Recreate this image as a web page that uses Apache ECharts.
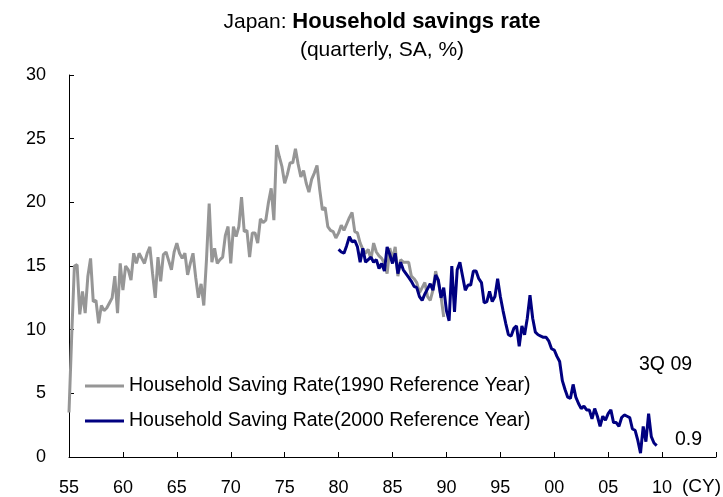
<!DOCTYPE html>
<html>
<head>
<meta charset="utf-8">
<script src="https://cdn.jsdelivr.net/npm/echarts@6/dist/echarts.min.js"></script>
<style>
  html, body { margin: 0; padding: 0; background: #fff; }
  #chart { width: 723px; height: 497px; }
</style>
</head>
<body>
<div id="chart"></div>
<script>
// quarterly values, 1955Q1 - 1989Q4 (1990 reference year)
const gray1990 = [
  3.5, 9.5, 15.0, 15.1, 11.2, 13.0, 11.3, 14.2, 15.6, 12.2, 12.3, 10.5,
  11.9, 11.5, 11.7, 12.1, 12.5, 14.2, 11.3, 15.2, 13.1, 15.0, 14.7, 13.9,
  16.0, 15.2, 16.0, 15.6, 15.2, 16.0, 16.5, 14.4, 12.5, 15.7, 13.8, 15.9,
  16.1, 15.4, 14.7, 16.1, 16.8, 16.0, 15.6, 16.0, 14.3, 15.2, 16.0, 14.1,
  12.5, 13.6, 11.9, 15.5, 19.9, 15.3, 16.4, 15.2, 15.5, 15.7, 17.4, 18.1,
  15.2, 18.1, 17.3, 18.1, 20.4, 17.7, 17.8, 15.7, 17.6, 17.6, 16.8, 18.7,
  18.4, 18.6, 20.0, 21.1, 18.6, 24.5, 23.6, 22.8, 21.5, 22.2, 23.1, 23.1,
  24.2, 23.0, 22.0, 22.5, 21.5, 20.8, 21.8, 22.3, 22.9, 21.0, 19.4, 19.6,
  18.1, 17.8, 17.7, 17.2, 17.6, 18.2, 17.8, 18.3, 18.8, 19.2, 17.7, 17.6,
  16.8, 16.3, 16.0, 16.3, 15.5, 16.8, 16.1, 15.8, 15.6, 15.2, 14.4, 16.4,
  15.5, 16.5, 14.2, 15.5, 15.3, 15.3, 15.3, 14.2, 14.0, 13.7, 12.9, 13.3,
  13.7, 12.6, 12.3, 13.1, 14.6, 13.7, 12.6, 11.0
]
const grayStart = 1955
// quarterly values, 1980Q1 - 2009Q3 (2000 reference year)
const blue2000 = [
  16.3, 16.1, 16.0, 16.6, 17.3, 16.9, 17.0, 16.5, 15.3, 16.4, 15.3, 15.5,
  15.7, 15.3, 15.5, 14.8, 15.2, 14.6, 16.5, 15.9, 15.2, 16.0, 14.4, 15.3,
  14.7, 14.4, 14.1, 13.8, 13.4, 13.3, 12.6, 12.3, 12.8, 13.2, 13.6, 13.1,
  14.3, 13.9, 12.5, 13.3, 11.5, 10.7, 15.0, 11.4, 14.7, 15.3, 14.2, 13.1,
  13.5, 13.5, 14.6, 14.6, 14.0, 13.7, 12.1, 12.2, 13.0, 12.2, 12.6, 14.0,
  12.6, 11.5, 10.5, 9.6, 9.5, 10.1, 10.3, 8.7, 10.3, 9.6, 10.9, 12.7,
  10.9, 9.8, 9.6, 9.5, 9.4, 9.4, 9.1, 8.5, 8.4, 7.9, 7.5, 6.0,
  5.3, 4.7, 4.6, 5.7, 4.7, 4.2, 3.8, 4.0, 3.7, 3.7, 3.0, 3.8,
  3.2, 2.4, 3.2, 2.9, 3.4, 3.7, 2.7, 2.7, 2.4, 3.1, 3.3, 3.2,
  3.1, 2.2, 2.1, 1.3, 0.3, 2.4, 1.2, 3.4, 1.6, 1.1, 0.9
]
const blueStart = 1980
const seriesNames = ['Household Saving Rate(1990 Reference Year)', 'Household Saving Rate(2000 Reference Year)']

const font = '"Liberation Sans", Arial, sans-serif'
const toPoints = (arr, start) => arr.map((v, i) => [start + i / 4, v])

const myChart = echarts.init(document.getElementById('chart'), null, { renderer: 'canvas' })
const option = {
  animation: false,
  backgroundColor: '#fff',
  color: ['#969696', '#000080'],
  title: {
    text: '{n|Japan: }{b|Household savings rate}',
    subtext: '(quarterly, SA, %)',
    left: 377,
    textAlign: 'center',
    top: 6,
    itemGap: 7,
    textStyle: {
      rich: {
        n: { fontFamily: font, fontSize: 21, fontWeight: 'normal', color: '#000' },
        b: { fontFamily: font, fontSize: 22, fontWeight: 'bold', color: '#000' }
      }
    },
    subtextStyle: { fontFamily: font, fontSize: 21, color: '#000', align: 'center' }
  },
  legend: {
    orient: 'vertical',
    left: 80,
    top: 371,
    itemWidth: 39,
    itemHeight: 3,
    itemGap: 15,
    icon: 'rect',
    data: seriesNames,
    textStyle: { fontFamily: font, fontSize: 19.5, color: '#000' }
  },
  grid: { left: 69, right: 7, top: 75, bottom: 40 },
  xAxis: {
    type: 'value',
    min: 1955,
    max: 2015,
    interval: 5,
    axisLine: { lineStyle: { color: '#000', width: 1 } },
    axisTick: { inside: true, length: 5, lineStyle: { color: '#000' } },
    axisLabel: {
      margin: 22,
      fontFamily: font,
      fontSize: 18,
      color: '#000',
      formatter: v => v >= 2015 ? '' : String(v % 100).padStart(2, '0')
    },
    splitLine: { show: false }
  },
  yAxis: {
    type: 'value',
    min: 0,
    max: 30,
    interval: 5,
    axisLine: { show: true, lineStyle: { color: '#000', width: 1 } },
    axisTick: { show: true, inside: true, length: 5, lineStyle: { color: '#000' } },
    axisLabel: { margin: 23, fontFamily: font, fontSize: 18, color: '#000' },
    splitLine: { show: false }
  },
  graphic: [
    { type: 'text', left: 682, top: 477, style: { text: '(CY)', font: '19px ' + font, fill: '#000' } },
    { type: 'text', left: 639, top: 355, style: { text: '3Q 09', font: '19.5px ' + font, fill: '#000' } },
    { type: 'text', left: 675, top: 430, style: { text: '0.9', font: '19.5px ' + font, fill: '#000' } }
  ],
  series: [
    {
      name: seriesNames[0],
      type: 'line',
      showSymbol: false,
      data: toPoints(gray1990, grayStart),
      lineStyle: { width: 3, color: '#969696' },
      z: 2
    },
    {
      name: seriesNames[1],
      type: 'line',
      showSymbol: false,
      data: toPoints(blue2000, blueStart),
      lineStyle: { width: 3, color: '#000080' },
      z: 3
    }
  ]
}
myChart.setOption(option)
</script>
</body>
</html>
